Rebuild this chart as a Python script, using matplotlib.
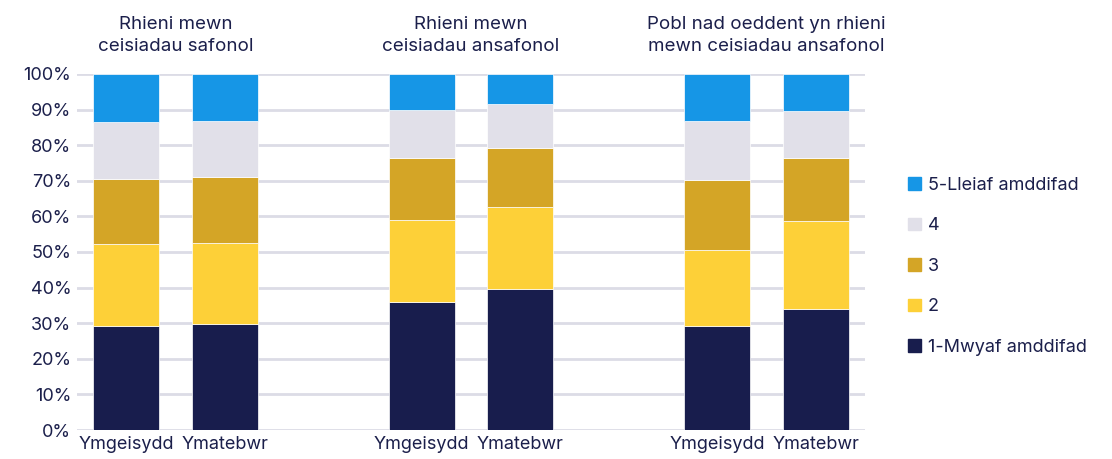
import numpy as np
import matplotlib.pyplot as plt
from matplotlib.patches import Patch

plt.rcParams['font.family'] = ['Inter', 'DejaVu Sans']

# data: share of each deprivation quintile (%)
groups = ["Rhieni mewn\nceisiadau safonol",
          "Rhieni mewn\nceisiadau ansafonol",
          "Pobl nad oeddent yn rhieni\nmewn ceisiadau ansafonol"]
bar_labels = ["Ymgeisydd", "Ymatebwr"] * 3
q1 = [29.2, 29.8, 36.0, 39.6, 29.2, 34.0]
q2 = [23.0, 22.7, 23.0, 23.0, 21.4, 24.7]
q3 = [18.3, 18.5, 17.4, 16.6, 19.6, 17.7]
q4 = [16.0, 15.8, 13.6, 12.3, 16.6, 13.2]
q5 = [13.5, 13.2, 10.0, 8.5, 13.2, 10.4]
series_names = ["1-Mwyaf amddifad", "2", "3", "4", "5-Lleiaf amddifad"]

colors = ["#181d4d", "#fdd038", "#d4a526", "#e1e0e9", "#1696e6"]
txt = "#1b1f4b"

x = np.array([0, 1, 3, 4, 6, 7])

fig = plt.figure(figsize=(11.12, 4.59), dpi=100)
ax = fig.add_axes([0.069, 0.063, 0.709, 0.776])

bottom = np.zeros(len(x))
for vals, c in zip([q1, q2, q3, q4, q5], colors):
    ax.bar(x, vals, bottom=bottom, width=0.67, color=c, edgecolor='white', linewidth=0.5, zorder=3)
    bottom += np.array(vals)

ax.set_xlim(-0.5, 7.5)
ax.set_ylim(0, 100)
ax.set_yticks(np.arange(0, 101, 10))
ax.set_yticklabels([f"{v}%" for v in range(0, 101, 10)], fontsize=13, color=txt)
ax.set_xticks(x)
ax.set_xticklabels(bar_labels, fontsize=13, color=txt)
ax.tick_params(length=0, pad=4)
ax.yaxis.grid(True, color='#dcdce6', linewidth=2, zorder=0)
for s in ax.spines.values():
    s.set_visible(False)

for i, g in enumerate(groups):
    ax.text(x[2*i] + 0.5, 105.3, g, ha='center', va='bottom', fontsize=13.5,
            color=txt, linespacing=1.4)

handles = [Patch(color=c, label=n) for c, n in zip(colors, series_names)][::-1]
fig.legend(handles=handles, loc='center left', bbox_to_anchor=(0.802, 0.42),
           frameon=False, fontsize=13, labelcolor=txt, handlelength=0.7,
           handleheight=0.7, handletextpad=0.4, labelspacing=1.3)

fig.savefig("out.png", dpi=100)
